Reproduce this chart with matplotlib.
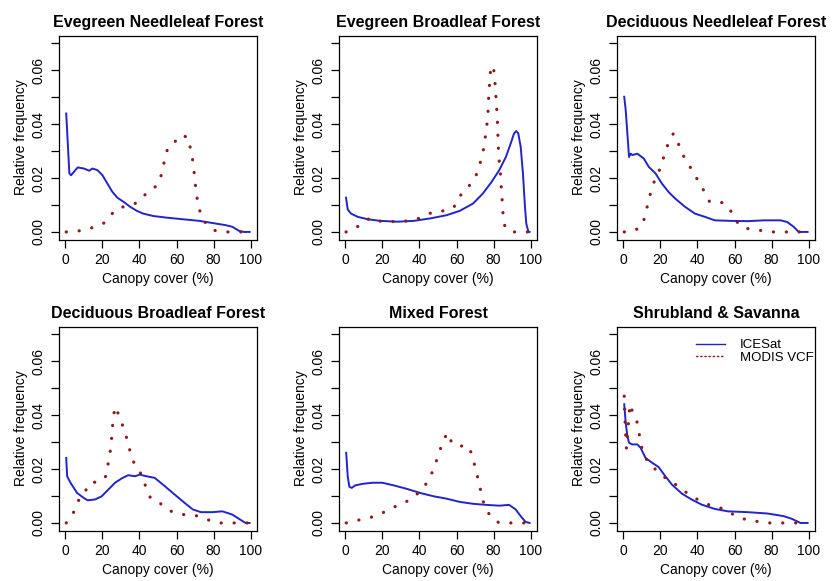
import numpy as np
import matplotlib
matplotlib.use("Agg")
import matplotlib.pyplot as plt

plt.rcParams["font.family"] = ["Liberation Sans", "DejaVu Sans"]

titles = [
    "Evegreen Needleleaf Forest",
    "Evegreen Broadleaf Forest",
    "Deciduous Needleleaf Forest",
    "Deciduous Broadleaf Forest",
    "Mixed Forest",
    "Shrubland & Savanna",
]

# ICESat curves (x = canopy cover %, y = relative frequency)
ice_enf_x = [0.4, 2.1, 3, 6.6, 10, 12.8, 14.6, 17.3, 20, 22.6, 25.3, 28, 31.5, 35, 38.6, 42, 47.5, 54.6, 63.5, 72.4, 79.5, 86.7, 90.2, 93.8, 96.4, 99.5]
ice_enf_y = [0.0439, 0.0217, 0.0210, 0.0239, 0.0235, 0.0227, 0.0235, 0.0229, 0.0210, 0.0180, 0.0149, 0.0127, 0.0111, 0.0093, 0.0078, 0.0068, 0.0059, 0.0053, 0.0047, 0.0041, 0.0033, 0.0025, 0.0019, 0.0004, 0.0, 0.0]

ice_ebf_x = [0.3, 1.2, 3, 6.6, 12, 19, 28, 36.8, 45.7, 54.6, 61.7, 68.9, 74.2, 78.6, 83.1, 86.7, 89.3, 91.1, 92.3, 93.4, 94.7, 95.9, 97, 97.7, 98.8, 99.5]
ice_ebf_y = [0.0127, 0.0083, 0.0068, 0.0056, 0.0047, 0.0041, 0.0038, 0.0041, 0.0050, 0.0062, 0.0078, 0.0105, 0.0142, 0.0182, 0.0229, 0.0278, 0.0328, 0.0365, 0.0374, 0.0365, 0.0315, 0.0217, 0.0093, 0.0031, 0.0002, 0.0]

ice_dnf_x = [0.4, 1.2, 2.1, 3, 3.9, 4.8, 7.5, 11, 13.7, 17.3, 20.8, 24.4, 27.9, 33.3, 38.6, 44, 49.3, 58.2, 67.1, 76, 84.9, 88.4, 92, 94.7, 99.5]
ice_dnf_y = [0.0501, 0.0452, 0.0365, 0.0278, 0.0290, 0.0285, 0.0290, 0.0272, 0.0241, 0.0217, 0.0179, 0.0148, 0.0124, 0.0093, 0.0068, 0.0056, 0.0043, 0.0041, 0.0040, 0.0043, 0.0043, 0.0037, 0.0019, 0.0, 0.0]

ice_dbf_x = [0.4, 0.9, 2.7, 6.3, 9.8, 12, 16, 19.6, 23.2, 26.8, 30.4, 33.9, 37.5, 40.2, 43.8, 48.2, 52.7, 58, 63.4, 68.8, 73.2, 79.5, 84.8, 90.2, 93.8, 97.3, 99.5]
ice_dbf_y = [0.0241, 0.0173, 0.0149, 0.0111, 0.0093, 0.0084, 0.0087, 0.0099, 0.0124, 0.0149, 0.0165, 0.0177, 0.0173, 0.0179, 0.0173, 0.0167, 0.0142, 0.0111, 0.0080, 0.0050, 0.0040, 0.0040, 0.0043, 0.0031, 0.0015, 0.0, 0.0]

ice_mf_x = [0.4, 1.2, 2.1, 3.4, 5.2, 9.3, 14.6, 19.9, 26.2, 33.3, 40.4, 47.5, 54.6, 61.7, 68.9, 76, 83.1, 88.4, 92, 94.7, 97.3, 99.5]
ice_mf_y = [0.0260, 0.0173, 0.0134, 0.0130, 0.0139, 0.0145, 0.0149, 0.0149, 0.0139, 0.0126, 0.0111, 0.0099, 0.0090, 0.0078, 0.0071, 0.0067, 0.0064, 0.0067, 0.0050, 0.0025, 0.0004, 0.0]

ice_ss_x = [0.4, 1.2, 2.1, 3, 4.8, 7.5, 9.3, 11.9, 15.5, 19, 22.6, 26.2, 31.5, 36.8, 42.2, 49.3, 56.4, 67.1, 77.8, 86.7, 91.1, 95.6, 99.5]
ice_ss_y = [0.0440, 0.0371, 0.0322, 0.0297, 0.0291, 0.0291, 0.0278, 0.0241, 0.0223, 0.0207, 0.0173, 0.0142, 0.0109, 0.0087, 0.0068, 0.0052, 0.0043, 0.0040, 0.0035, 0.0025, 0.0015, 0.0, 0.0]

# MODIS VCF curves
mod_enf_x = [0.4, 5.7, 11, 16, 20.8, 24.4, 27.9, 32.4, 37.2, 41.3, 45.2, 49.3, 51.4, 52.8, 53.7, 55.5, 59.1, 62.3, 66.4, 67.4, 68.5, 69.2, 69.8, 70.3, 71, 72.1, 73.3, 76.3, 80.4, 85.4, 90.6, 96.4, 99.5]
mod_enf_y = [0.0, 0.0002, 0.0009, 0.0019, 0.0033, 0.0062, 0.0087, 0.0095, 0.0103, 0.0127, 0.0152, 0.0171, 0.0202, 0.0239, 0.0275, 0.0315, 0.0334, 0.0359, 0.0350, 0.0313, 0.0278, 0.0241, 0.0204, 0.0167, 0.0130, 0.0093, 0.0058, 0.0028, 0.0006, 0.0, 0.0, 0.0, 0.0]

mod_ebf_x = [0.3, 5.2, 9.3, 13.7, 18.7, 24, 29.2, 34.2, 39.5, 44.5, 49.3, 54.3, 58.7, 61.2, 64.4, 68, 70.6, 72.4, 73.7, 74.9, 75.6, 76.3, 76.9, 77.4, 78.1, 78.6, 79.3, 79.9, 80.6, 81.3, 82, 82.4, 82.8, 83.5, 84.2, 84.9, 85.2, 86.1, 89, 94.1, 99]
mod_ebf_y = [0.0, 0.0012, 0.0035, 0.0053, 0.0040, 0.0040, 0.0035, 0.0043, 0.0050, 0.0066, 0.0078, 0.0078, 0.0093, 0.0127, 0.0155, 0.0179, 0.0210, 0.0245, 0.0281, 0.0315, 0.0353, 0.0390, 0.0427, 0.0501, 0.0575, 0.0612, 0.0616, 0.0612, 0.0575, 0.0501, 0.0427, 0.0353, 0.0278, 0.0241, 0.0167, 0.0093, 0.0058, 0.0022, 0.0, 0.0, 0.0]

mod_dnf_x = [0.4, 5.7, 9.8, 11.6, 12.8, 14.1, 15.5, 17.3, 19.4, 21.2, 23, 24.4, 27, 29.4, 31.1, 33.8, 36.5, 39.1, 41.8, 44.3, 46.6, 50.2, 54.1, 57.8, 60, 63.5, 68.5, 73.8, 78.6, 84, 89.3, 95.2, 99.5]
mod_dnf_y = [0.0, 0.0004, 0.0021, 0.0056, 0.0093, 0.0130, 0.0167, 0.0198, 0.0229, 0.0266, 0.0303, 0.0334, 0.0365, 0.0334, 0.0297, 0.0266, 0.0235, 0.0204, 0.0173, 0.0142, 0.0111, 0.0111, 0.0108, 0.0080, 0.0049, 0.0019, 0.0010, 0.0006, 0.0, 0.0, 0.0, 0.0, 0.0]

mod_dbf_x = [0.4, 3.6, 5.9, 8, 11.3, 13.8, 18.2, 21.8, 22.7, 23.8, 24.5, 25, 25.4, 25.9, 26.8, 28.9, 30.7, 32.5, 33.9, 35.2, 37, 39.8, 42, 43.8, 45.9, 50, 53.9, 58, 63.4, 68.4, 73.2, 78, 83, 88.4, 93.8, 99.5]
mod_dbf_y = [0.0, 0.0028, 0.0062, 0.0099, 0.0124, 0.0151, 0.0151, 0.0173, 0.0208, 0.0245, 0.0282, 0.0319, 0.0356, 0.0392, 0.0431, 0.0399, 0.0365, 0.0328, 0.0293, 0.0257, 0.0223, 0.0196, 0.0161, 0.0126, 0.0093, 0.0080, 0.0056, 0.0040, 0.0031, 0.0031, 0.0022, 0.0009, 0.0, 0.0, 0.0, 0.0]

mod_mf_x = [0.4, 5.7, 10.7, 15.8, 20.8, 25.6, 30, 34.7, 39, 42.5, 45.4, 47.5, 49.3, 51, 52.8, 55, 57.3, 61.4, 64.8, 67.6, 69.2, 70.6, 71.9, 73, 74.2, 76, 79, 83.1, 88.4, 93.8, 99.5]
mod_mf_y = [0.0, 0.0009, 0.0015, 0.0025, 0.0040, 0.0056, 0.0072, 0.0084, 0.0109, 0.0134, 0.0165, 0.0198, 0.0233, 0.0269, 0.0303, 0.0334, 0.0300, 0.0282, 0.0290, 0.0266, 0.0229, 0.0192, 0.0157, 0.0121, 0.0084, 0.0050, 0.0019, 0.0, 0.0, 0.0, 0.0]

mod_ss_x = [0.4, 1, 1.6, 2.2, 3.5, 5.5, 7.5, 8.4, 9.3, 10.5, 12.8, 16.4, 20.5, 24.4, 28.8, 32.9, 37.4, 42.2, 47.2, 52.3, 57.3, 61.7, 66.7, 72, 77.4, 83, 88.4, 93.8, 99.5]
mod_ss_y = [0.0470, 0.0350, 0.0275, 0.0330, 0.0440, 0.0400, 0.0371, 0.0334, 0.0297, 0.0262, 0.0231, 0.0204, 0.0179, 0.0157, 0.0140, 0.0118, 0.0096, 0.0080, 0.0064, 0.0056, 0.0040, 0.0021, 0.0012, 0.0006, 0.0, 0.0, 0.0, 0.0, 0.0]

icesat = [(ice_enf_x, ice_enf_y), (ice_ebf_x, ice_ebf_y), (ice_dnf_x, ice_dnf_y),
          (ice_dbf_x, ice_dbf_y), (ice_mf_x, ice_mf_y), (ice_ss_x, ice_ss_y)]
modis = [(mod_enf_x, mod_enf_y), (mod_ebf_x, mod_ebf_y), (mod_dnf_x, mod_dnf_y),
         (mod_dbf_x, mod_dbf_y), (mod_mf_x, mod_mf_y), (mod_ss_x, mod_ss_y)]

W, H = 836, 581
fig = plt.figure(figsize=(W / 100, H / 100), dpi=100)

col_left = [59, 339, 617]
row_bottom = [239.5, 530.5]
box_w, box_h = 198, 204

blue = "#2323cc"
red = "#8b1a1a"

for i in range(6):
    r, c = divmod(i, 3)
    ax = fig.add_axes([col_left[c] / W, 1 - row_bottom[r] / H, box_w / W, box_h / H])
    ax.plot(icesat[i][0], icesat[i][1], color=blue, lw=1.4, label="ICESat")
    ax.plot(modis[i][0], modis[i][1], color=red, lw=2.3,
            linestyle=(0, (0.05, 4.0)), dash_capstyle="round", label="MODIS VCF")

    ax.set_xlim(-3.5, 103.5)
    ax.set_ylim(-0.0028, 0.0728)
    ax.set_xticks([0, 20, 40, 60, 80, 100])
    ax.set_yticks(np.arange(0, 0.071, 0.01))
    ax.set_yticklabels(["0.00", "", "0.02", "", "0.04", "", "0.06", ""],
                       rotation=90, va="center")
    ax.tick_params(direction="out", length=6, width=0.9, labelsize=10, pad=4)
    for s in ax.spines.values():
        s.set_linewidth(0.9)
    ax.set_xlabel("Canopy cover (%)", fontsize=10, labelpad=3)
    ax.set_ylabel("Relative frequency", fontsize=10, labelpad=2)
    ax.set_title(titles[i], fontsize=11.5, fontweight="bold", pad=6)

    if i == 5:
        leg = ax.legend(loc="upper right", bbox_to_anchor=(1.02, 0.965),
                        frameon=False, fontsize=9.5, handlelength=2.2,
                        borderaxespad=0.1, labelspacing=0.05,
                        handletextpad=1.1, borderpad=0.3)
        leg.get_lines()[0].set_linewidth(1.0)
        leg.get_lines()[1].set_linewidth(1.0)
        leg.get_lines()[1].set_linestyle((0, (1, 2)))

fig.savefig("out.png", dpi=100)
